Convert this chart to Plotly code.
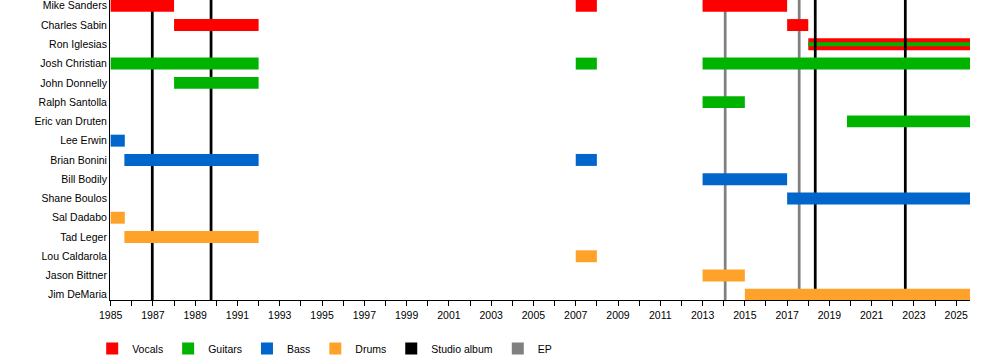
import plotly.graph_objects as go

# ---------------- data ----------------
members = ["Mike Sanders", "Charles Sabin", "Ron Iglesias", "Josh Christian",
           "John Donnelly", "Ralph Santolla", "Eric van Druten", "Lee Erwin",
           "Brian Bonini", "Bill Bodily", "Shane Boulos", "Sal Dadabo",
           "Tad Leger", "Lou Caldarola", "Jason Bittner", "Jim DeMaria"]

END = 2025.65

vocal_members = ["Mike Sanders", "Mike Sanders", "Mike Sanders",
                 "Charles Sabin", "Charles Sabin", "Ron Iglesias"]
vocal_start = [1985.0, 2007.0, 2013.0, 1988.0, 2017.0, 2018.0]
vocal_end = [1988.0, 2008.0, 2017.0, 1992.0, 2018.0, END]

guitar_members = ["Josh Christian", "Josh Christian", "Josh Christian",
                  "John Donnelly", "Ralph Santolla", "Eric van Druten"]
guitar_start = [1985.0, 2007.0, 2013.0, 1988.0, 2013.0, 2019.83]
guitar_end = [1992.0, 2008.0, END, 1992.0, 2015.0, END]

# secondary role drawn as a thin stripe inside the main bar
stripe_members = ["Ron Iglesias"]
stripe_start = [2018.0]
stripe_end = [END]

bass_members = ["Lee Erwin", "Brian Bonini", "Brian Bonini",
                "Bill Bodily", "Shane Boulos"]
bass_start = [1985.0, 1985.65, 2007.0, 2013.0, 2017.0]
bass_end = [1985.67, 1992.0, 2008.0, 2017.0, END]

drum_members = ["Sal Dadabo", "Tad Leger", "Lou Caldarola",
                "Jason Bittner", "Jim DeMaria"]
drum_start = [1985.0, 1985.65, 2007.0, 2013.0, 2015.0]
drum_end = [1985.67, 1992.0, 2008.0, 2015.0, END]

studio_albums = [1986.97, 1989.75, 2018.33, 2022.59]
eps = [2014.07, 2017.57]

# ---------------- styling ----------------
COL = {"Vocals": "#ff0000", "Guitars": "#00b300", "Bass": "#0066cc",
       "Drums": "#ffa22a", "Studio album": "#000000", "EP": "#808080"}
FONT = "Liberation Sans, Arial, sans-serif"
FS = 10.5
BAR_W = 0.62
STRIPE_W = 0.21
Y_TOP, Y_BOTTOM = -0.30, 15.27
LINE_W = 0.13

pos = {m: i for i, m in enumerate(members)}
striped = set(stripe_members)

fig = go.Figure()


def hbar(names, starts, ends, color, name, width, showlegend, rank, group):
    fig.add_trace(go.Bar(
        orientation="h",
        y=[pos[n] for n in names],
        base=starts,
        x=[e - s for s, e in zip(starts, ends)],
        width=width,
        marker=dict(color=color, line=dict(width=0)),
        name=name, showlegend=showlegend, legendrank=rank, legendgroup=group,
        hoverinfo="skip"))


# striped member: main role bar + stripe (drawn beneath the album lines)
sel = [i for i, n in enumerate(vocal_members) if n in striped]
hbar([vocal_members[i] for i in sel], [vocal_start[i] for i in sel],
     [vocal_end[i] for i in sel], COL["Vocals"], "Vocals", BAR_W, False, 1, "Vocals")
hbar(stripe_members, stripe_start, stripe_end, COL["Guitars"], "Guitars",
     STRIPE_W, False, 2, "Guitars")

# release lines
for label, years, rank in (("Studio album", studio_albums, 5), ("EP", eps, 6)):
    fig.add_trace(go.Bar(
        orientation="v", x=years, y=[Y_BOTTOM - Y_TOP] * len(years),
        base=[Y_TOP] * len(years), width=LINE_W,
        marker=dict(color=COL[label], line=dict(width=0)),
        name=label, legendrank=rank, hoverinfo="skip"))

sel = [i for i, n in enumerate(vocal_members) if n not in striped]
hbar([vocal_members[i] for i in sel], [vocal_start[i] for i in sel],
     [vocal_end[i] for i in sel], COL["Vocals"], "Vocals", BAR_W, True, 1, "Vocals")
hbar(guitar_members, guitar_start, guitar_end, COL["Guitars"], "Guitars",
     BAR_W, True, 2, "Guitars")
hbar(bass_members, bass_start, bass_end, COL["Bass"], "Bass", BAR_W, True, 3, "Bass")
hbar(drum_members, drum_start, drum_end, COL["Drums"], "Drums", BAR_W, True, 4, "Drums")

fig.update_layout(
    width=1000, height=360,
    margin=dict(l=110, r=30, t=0, b=60, autoexpand=False),
    barmode="overlay",
    plot_bgcolor="white", paper_bgcolor="white",
    font=dict(family=FONT, size=FS, color="black"),
    legend=dict(orientation="h", x=-0.0207, xanchor="left", y=-0.162,
                yanchor="middle", font=dict(size=FS), traceorder="normal",
                itemclick=False),
    xaxis=dict(range=[1984.97, 2025.65], tick0=1985, dtick=2,
               ticks="outside", ticklen=5, tickcolor="black",
               minor=dict(dtick=1, tick0=1985, ticks="outside", ticklen=5,
                          tickcolor="black"),
               showline=True, linecolor="black", linewidth=1,
               showgrid=False, zeroline=False, fixedrange=True,
               automargin=False, ticklabeloverflow="allow"),
    yaxis=dict(range=[Y_BOTTOM, Y_TOP], tickvals=list(range(len(members))),
               ticktext=members, ticks="", showline=True, linecolor="black",
               linewidth=1, showgrid=False, zeroline=False, fixedrange=True,
               automargin=False, ticklabeloverflow="allow"),
)

fig.write_html("out.html", config={"displayModeBar": False},
               post_script="document.body.style.margin='0px';")
